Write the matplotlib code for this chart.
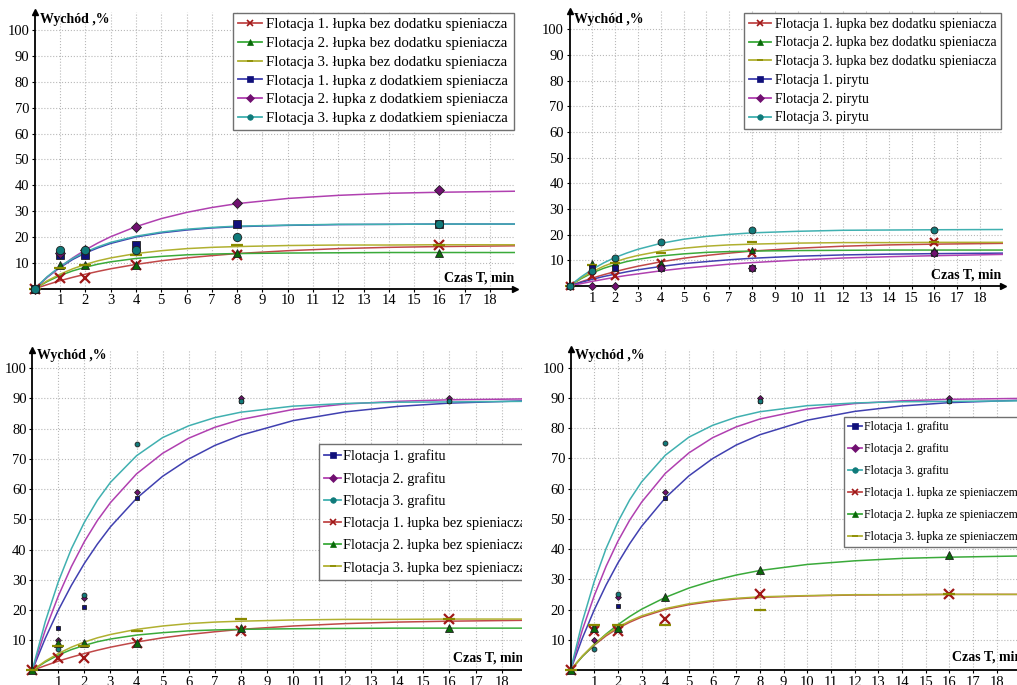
import matplotlib.pyplot as plt
from matplotlib.lines import Line2D
from matplotlib.patches import Rectangle

plt.rcParams['font.family'] = ['Liberation Serif', 'DejaVu Serif']

# measured times [min] and yields [%]
t_pts = [0, 1, 2, 4, 8, 16]
t_fit = [0, 0.5, 1, 1.5, 2, 2.5, 3, 4, 5, 6, 7, 8, 10, 12, 14, 16, 19]

# lupek bez dodatku spieniacza
bez_1 = [0, 4, 4, 9, 13, 17]
bez_2 = [0, 9, 9, 9, 14, 14]
bez_3 = [0, 8, 9, 13, 17, 17]
bez_3b = [0, 8, 8, 13, 17, 17]
fit_bez_1 = [0, 1.6, 3.1, 4.4, 5.6, 6.7, 7.7, 9.4, 10.8, 11.9, 12.8, 13.6, 14.7, 15.5, 16.0, 16.3, 16.6]
fit_bez_2 = [0, 2.8, 5.1, 6.9, 8.3, 9.5, 10.4, 11.7, 12.5, 13.1, 13.4, 13.6, 13.8, 13.9, 14.0, 14.0, 14.0]
fit_bez_3 = [0, 3.1, 5.6, 7.7, 9.4, 10.8, 11.9, 13.6, 14.7, 15.5, 16.0, 16.3, 16.7, 16.9, 16.9, 17.0, 17.0]

# lupek z dodatkiem spieniacza
z_1 = [0, 13, 13, 17, 25, 25]
z_2 = [0, 14, 15, 24, 33, 38]
z_3 = [0, 15, 15, 15, 20, 25]
ze_1 = [0, 13, 13, 17, 25, 25]
ze_2 = [0, 14, 14, 24, 33, 38]
ze_3 = [0, 15, 15, 15, 20, 25]
fit_z_1 = [0, 4.5, 8.2, 11.3, 13.8, 15.8, 17.5, 20.0, 21.6, 22.7, 23.5, 24.0, 24.5, 24.8, 24.9, 25.0, 25.0]
fit_z_2 = [0, 4.5, 8.4, 11.9, 15.0, 17.7, 20.1, 24.0, 27.1, 29.5, 31.4, 32.9, 34.9, 36.1, 36.9, 37.3, 37.7]
fit_z_3 = [0, 4.7, 8.6, 11.7, 14.2, 16.2, 17.9, 20.3, 21.9, 23.0, 23.7, 24.2, 24.6, 24.9, 24.9, 25.0, 25.0]

# piryt
pir_1 = [0, 7, 7, 7, 7, 13]
pir_2 = [0, 0, 0, 7, 7, 13]
pir_3 = [0, 6, 11, 17, 22, 22]
fit_pir_1 = [0, 1.4, 2.6, 3.7, 4.6, 5.5, 6.3, 7.6, 8.7, 9.5, 10.2, 10.8, 11.6, 12.1, 12.4, 12.6, 12.8]
fit_pir_2 = [0, 0.9, 1.8, 2.6, 3.4, 4.1, 4.7, 5.9, 6.9, 7.7, 8.5, 9.1, 10.1, 10.9, 11.4, 11.8, 12.3]
fit_pir_3 = [0, 3.5, 6.5, 9.0, 11.1, 12.8, 14.3, 16.6, 18.2, 19.3, 20.1, 20.7, 21.3, 21.7, 21.8, 21.9, 22.0]

# grafit
gr_1 = [0, 14, 21, 57, 89, 89]
gr_2 = [0, 10, 24, 59, 90, 90]
gr_3 = [0, 7, 25, 75, 89, 89]
fit_gr_1 = [0, 10.6, 19.9, 28.1, 35.4, 41.8, 47.5, 56.9, 64.2, 69.9, 74.4, 77.8, 82.6, 85.5, 87.3, 88.4, 89.2]
fit_gr_2 = [0, 13.3, 24.6, 34.3, 42.6, 49.6, 55.5, 65.0, 71.8, 76.8, 80.4, 83.0, 86.3, 88.1, 89.0, 89.5, 89.8]
fit_gr_3 = [0, 16.1, 29.3, 40.2, 49.0, 56.3, 62.2, 71.0, 77.0, 80.9, 83.6, 85.4, 87.4, 88.3, 88.7, 88.8, 89.0]

lab_bez = ["Flotacja 1. łupka bez dodatku spieniacza",
           "Flotacja 2. łupka bez dodatku spieniacza",
           "Flotacja 3. łupka bez dodatku spieniacza"]
lab_z = ["Flotacja 1. łupka z dodatkiem spieniacza",
         "Flotacja 2. łupka z dodatkiem spieniacza",
         "Flotacja 3. łupka z dodatkiem spieniacza"]
lab_pir = ["Flotacja 1. pirytu", "Flotacja 2. pirytu", "Flotacja 3. pirytu"]
lab_gr = ["Flotacja 1. grafitu", "Flotacja 2. grafitu", "Flotacja 3. grafitu"]
lab_bez2 = ["Flotacja 1. łupka bez spieniacza",
            "Flotacja 2. łupka bez spieniacza",
            "Flotacja 3. łupka bez spieniacza"]
lab_ze = ["Flotacja 1. łupka ze spieniaczem",
          "Flotacja 2. łupka ze spieniaczem",
          "Flotacja 3. łupka ze spieniaczem"]

# (curve colour, marker colour, marker)
RED = ('#c04848', '#a01818', 'x')
GREEN = ('#3aaa3a', '#0a6a0a', '^')
OLIVE = ('#b0b030', '#8a8a00', '_')
BLUE = ('#4040b0', '#10107a', 's')
PURPLE = ('#b040b0', '#701070', 'D')
TEAL = ('#40b0b0', '#107a7a', 'o')

fig = plt.figure(figsize=(10.17, 6.85), dpi=100)


def panel(rect, ylim_top, series, leg_pos, leg_fs, leg_sp, czas_x, czas_ha,
          arrow=True, hlen=1.6, hpad=0.3):
    ax = fig.add_axes(rect)
    handles = []
    for fit, pts, st, lab, ms in series:
        ax.plot(t_fit, fit, color=st[0], lw=1.1, zorder=2)
        mew = 1.6 if st[2] in ('x', '_') else 0.6
        ax.plot(t_pts, pts, ls='none', marker=st[2], ms=ms, color=st[1],
                mfc=st[1], mec=st[1] if st[2] in ('x', '_') else '#202020',
                mew=mew, zorder=3, clip_on=False)
        handles.append(Line2D([], [], color=st[0], lw=1.3, marker=st[2], ms=4,
                              mfc=st[1], mec=st[1], mew=1.2 if st[2] in ('x', '_') else 0.5))
    ax.set_xlim(0, 19)
    ax.set_ylim(0, ylim_top)
    ax.set_xticks(range(1, 19))
    ax.set_yticks(range(10, 101, 10))
    ax.grid(True, ls=':', color='#b8b8b8', lw=0.8)
    for s in ('top', 'right'):
        ax.spines[s].set_visible(False)
    ax.spines['left'].set_linewidth(1.3)
    ax.spines['bottom'].set_linewidth(1.3)
    ax.tick_params(length=2.5, width=0.8, labelsize=10.5, pad=1.5)
    ax.plot(0, 1, '^', color='k', ms=4, transform=ax.transAxes, clip_on=False)
    if arrow:
        ax.plot(1, 0, '>', color='k', ms=4, transform=ax.transAxes, clip_on=False)
    ax.text(0.2, 104, 'Wychód ,%', fontsize=10, fontweight='bold', va='center')
    ax.text(czas_x, 4.2, 'Czas T, min', fontsize=10, fontweight='bold',
            va='center', ha=czas_ha)
    leg = ax.legend(handles, [s[3] for s in series], loc='upper left',
                    bbox_to_anchor=leg_pos, bbox_transform=fig.transFigure,
                    fontsize=leg_fs, labelspacing=leg_sp, handlelength=hlen,
                    handletextpad=hpad, borderpad=0.35, borderaxespad=0,
                    fancybox=False, framealpha=1, edgecolor='#707070')
    leg.get_frame().set_linewidth(1.0)
    leg.set_zorder(6)
    return ax


panel([34.7 / 1017, 0.5785, 480.7 / 1017, 0.404], 107,
      [(fit_bez_1, bez_1, RED, lab_bez[0], 7),
       (fit_bez_2, bez_2, GREEN, lab_bez[1], 6),
       (fit_bez_3, bez_3, OLIVE, lab_bez[2], 8),
       (fit_z_1, z_1, BLUE, lab_z[0], 6),
       (fit_z_2, z_2, PURPLE, lab_z[1], 5),
       (fit_z_3, z_3, TEAL, lab_z[2], 6)],
      (233 / 1017, 1 - 12.7 / 685), 10.7, 0.36, 18.95, 'right')

panel([569.5 / 1017, 0.5825, 433.2 / 1017, 0.401], 107,
      [(fit_bez_1, bez_1, RED, lab_bez[0], 6),
       (fit_bez_2, bez_2, GREEN, lab_bez[1], 5),
       (fit_bez_3, bez_3, OLIVE, lab_bez[2], 7),
       (fit_pir_1, pir_1, BLUE, lab_pir[0], 5),
       (fit_pir_2, pir_2, PURPLE, lab_pir[1], 4),
       (fit_pir_3, pir_3, TEAL, lab_pir[2], 5)],
      (744 / 1017, 1 - 13 / 685), 9.8, 0.42, 18.95, 'right')

panel([32.2 / 1017, 0.0212, 495.5 / 1017, 0.468], 106,
      [(fit_gr_1, gr_1, BLUE, lab_gr[0], 3.5),
       (fit_gr_2, gr_2, PURPLE, lab_gr[1], 3),
       (fit_gr_3, gr_3, TEAL, lab_gr[2], 3.5),
       (fit_bez_1, bez_1, RED, lab_bez2[0], 7),
       (fit_bez_2, bez_2, GREEN, lab_bez2[1], 6),
       (fit_bez_3, bez_3b, OLIVE, lab_bez2[2], 8)],
      (319 / 1017, 1 - 444 / 685), 10.4, 0.62, 16.13, 'left', hlen=1.2, hpad=0.08)

panel([570.6 / 1017, 0.0219, 449.7 / 1017, 0.468], 106,
      [(fit_gr_1, gr_1, BLUE, lab_gr[0], 3.5),
       (fit_gr_2, gr_2, PURPLE, lab_gr[1], 3),
       (fit_gr_3, gr_3, TEAL, lab_gr[2], 3.5),
       (fit_z_1, ze_1, RED, lab_ze[0], 7),
       (fit_z_2, ze_2, GREEN, lab_ze[1], 6),
       (fit_z_3, ze_3, OLIVE, lab_ze[2], 8)],
      (844 / 1017, 1 - 417 / 685), 8.5, 0.84, 16.1, 'left', arrow=False,
      hlen=1.2, hpad=0.15)

# the lower-left picture is cut off on its right side
fig.patches.append(Rectangle((522 / 1017, 0), 21 / 1017, 0.5, transform=fig.transFigure,
                             facecolor='white', edgecolor='none', zorder=5))

fig.savefig('out.png', dpi=100)
